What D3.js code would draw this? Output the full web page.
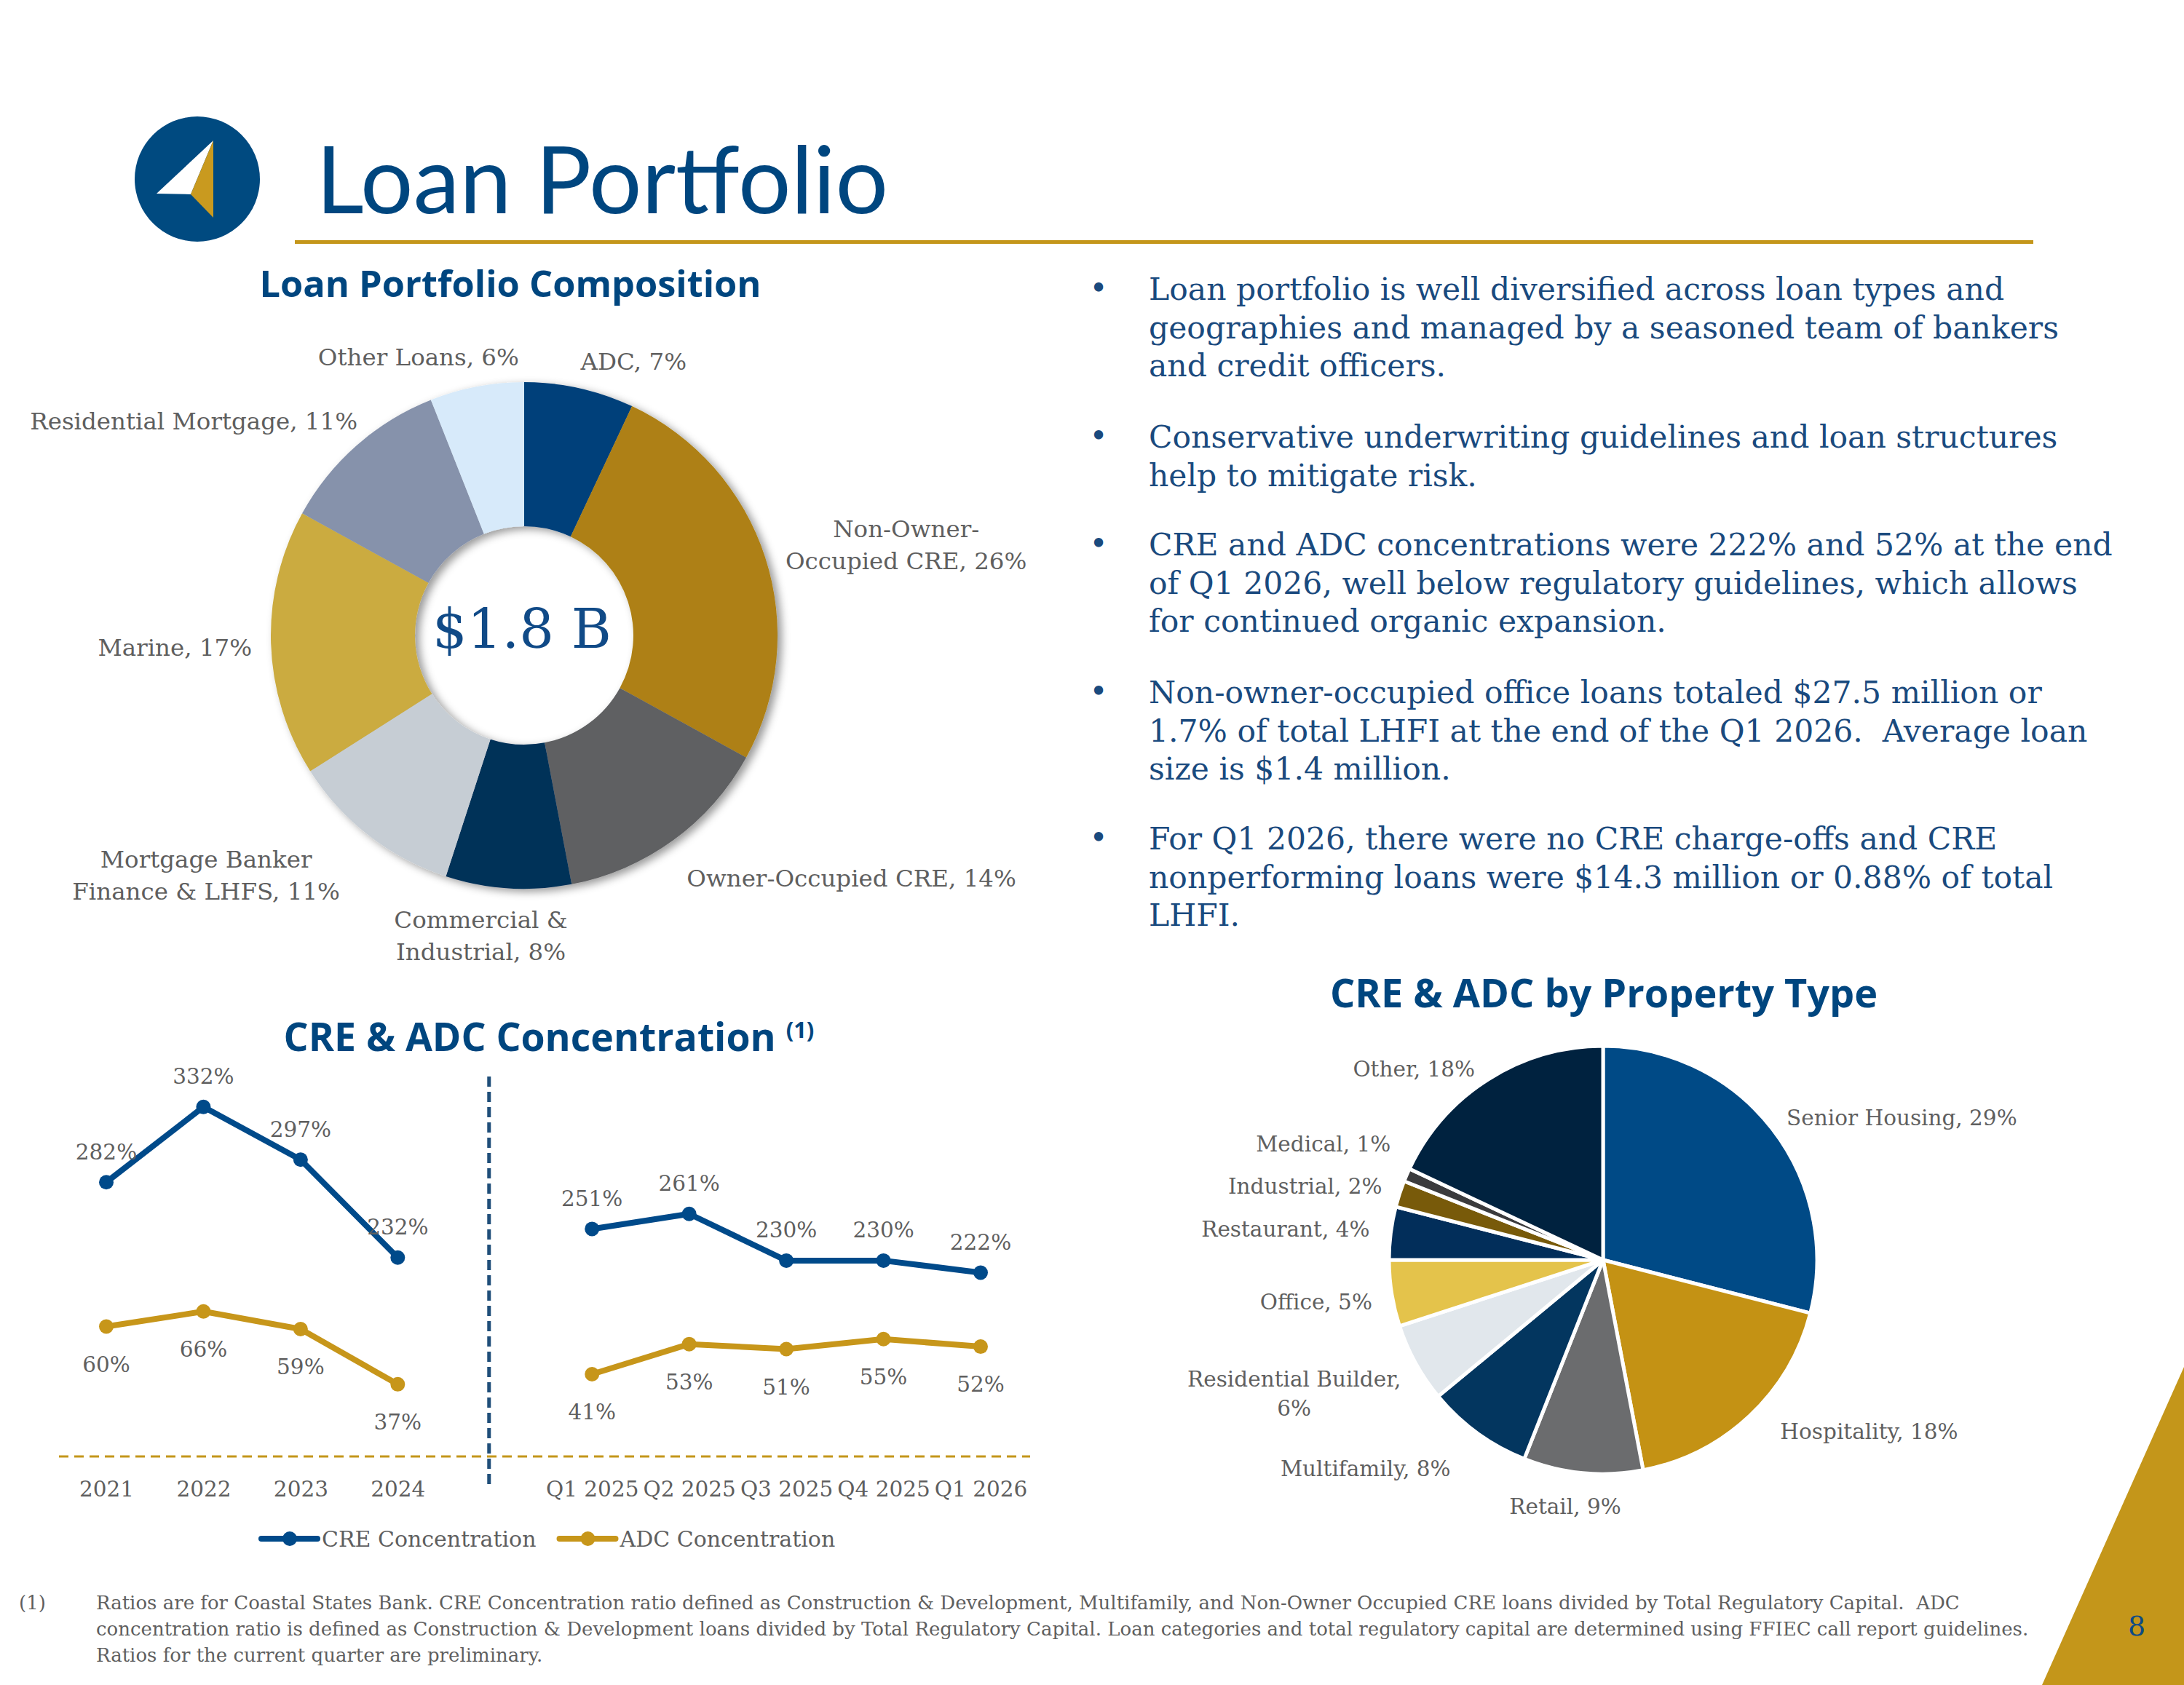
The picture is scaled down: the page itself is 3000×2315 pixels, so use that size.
<!DOCTYPE html>
<html>
<head>
<meta charset="utf-8">
<script src="https://cdn.jsdelivr.net/npm/d3@7"></script>
<style>
  html, body { margin: 0; padding: 0; background: #fff; }
  svg { display: block; }
  text { white-space: pre; }
</style>
</head>
<body>
<div id="slide"></div>
<script>
// Loan portfolio composition (donut).
var compNames = ["ADC", "Non-Owner-|Occupied CRE", "Owner-Occupied CRE", "Commercial &|Industrial",
                 "Mortgage Banker|Finance & LHFS", "Marine", "Residential Mortgage", "Other Loans"];
var compShares = [7, 26, 14, 8, 11, 17, 11, 6];
var compTotal = "$1.8 B";

// CRE & ADC concentration by period.
var annualPeriods = ["2021", "2022", "2023", "2024"];
var quarterPeriods = ["Q1 2025", "Q2 2025", "Q3 2025", "Q4 2025", "Q1 2026"];
var creAnnual = [282, 332, 297, 232];
var creQuarterly = [251, 261, 230, 230, 222];
var adcAnnual = [60, 66, 59, 37];
var adcQuarterly = [41, 53, 51, 55, 52];
var seriesNames = ["CRE Concentration", "ADC Concentration"];

// CRE & ADC by property type (pie).
var propertyTypes = ["Senior Housing", "Hospitality", "Retail", "Multifamily", "Residential Builder",
                     "Office", "Restaurant", "Industrial", "Medical", "Other"];
var propertyShares = [29, 18, 9, 8, 6, 5, 4, 2, 1, 18];

var bullets = [
    ["Loan portfolio is well diversified across loan types and",
     "geographies and managed by a seasoned team of bankers",
     "and credit officers."],
    ["Conservative underwriting guidelines and loan structures",
     "help to mitigate risk."],
    ["CRE and ADC concentrations were 222% and 52% at the end",
     "of Q1 2026, well below regulatory guidelines, which allows",
     "for continued organic expansion."],
    ["Non-owner-occupied office loans totaled $27.5 million or",
     "1.7% of total LHFI at the end of the Q1 2026.  Average loan",
     "size is $1.4 million."],
    ["For Q1 2026, there were no CRE charge-offs and CRE",
     "nonperforming loans were $14.3 million or 0.88% of total",
     "LHFI."]
];

var footnote = [
    "Ratios are for Coastal States Bank. CRE Concentration ratio defined as Construction & Development, Multifamily, and Non-Owner Occupied CRE loans divided by Total Regulatory Capital.  ADC",
    "concentration ratio is defined as Construction & Development loans divided by Total Regulatory Capital. Loan categories and total regulatory capital are determined using FFIEC call report guidelines.",
    "Ratios for the current quarter are preliminary."
];

// Colours and fonts.
var blue = "#00467F", gold = "#C4961A", grey = "#5F5F5F", textBlue = "#1A4A7E";
var compColors = ["#00417A", "#AE8012", "#5F6062", "#003059", "#C6CDD4", "#CBAB40", "#8692AB", "#D7EAFA"];
var propertyColors = ["#004A86", "#C49214", "#6B6C6E", "#03365F", "#E1E7EC", "#E4C34B", "#022E5A", "#785A0A", "#3B3B3D", "#00223F"];
var serif = "'DejaVu Serif', Georgia, serif";
var sans = "'Open Sans', sans-serif";

var W = 3000, H = 2315;
var svg = d3.select("#slide").append("svg").attr("width", W).attr("height", H);

var defs = svg.append("defs");
var shadow = defs.append("filter").attr("id", "shadow")
    .attr("x", "-20%").attr("y", "-20%").attr("width", "140%").attr("height", "140%");
shadow.append("feDropShadow").attr("dx", 6).attr("dy", 4).attr("stdDeviation", 6)
    .attr("flood-color", "#000").attr("flood-opacity", 0.4);

// ---- Header: logo, title and rule ----
var logo = svg.append("g");
logo.append("circle").attr("cx", 271).attr("cy", 246).attr("r", 86).attr("fill", "#004A80");
logo.append("polygon").attr("points", "293,193 215,266 262,267").attr("fill", "#fff");
logo.append("polygon").attr("points", "293,193 262,267 293,299").attr("fill", "#C99A1F");

svg.append("text").attr("x", 434).attr("y", 293)
    .attr("font-family", "Lato, sans-serif").attr("font-size", 128)
    .attr("fill", blue).text("Loan Portfolio");
svg.append("rect").attr("x", 405).attr("y", 330).attr("width", 2388).attr("height", 5).attr("fill", gold);

function heading(x, y, size, txt) {
    return svg.append("text").attr("x", x).attr("y", y).attr("text-anchor", "middle")
        .attr("font-family", sans).attr("font-weight", 700).attr("font-size", size)
        .attr("fill", blue).text(txt);
}

// Places pie labels just outside each slice, then applies manual nudges
// to follow where the original slide put them.
function pieLabels(g, arcs, names, shares, rLab, lineH, fontSize, nudges) {
    arcs.forEach(function(d, i) {
        var a = (d.startAngle + d.endAngle) / 2,
            x = rLab * Math.sin(a),
            y = -rLab * Math.cos(a),
            s = Math.sin(a);
        var label = names[i] + (names[i] == "Residential Builder" ? ",|" : ", ") + shares[i] + "%";
        var lines = label.split("|");
        var t = g.append("text").attr("text-anchor", "middle")
            .attr("font-family", serif).attr("font-size", fontSize).attr("fill", grey);
        lines.forEach(function(ln, j) {
            t.append("tspan").attr("x", 0).attr("y", (j - (lines.length - 1) / 2) * lineH)
                .attr("dy", "0.35em").text(ln);
        });
        var w = t.node().getBBox().width;
        var cx = Math.abs(s) < 0.15 ? x : (s > 0 ? x + w / 2 : x - w / 2);
        var nd = nudges[names[i]] || [0, 0];
        t.attr("transform", "translate(" + (cx + nd[0]) + "," + (y + nd[1]) + ")");
    });
}

// ---- Loan Portfolio Composition donut ----
heading(701, 408, 50.5, "Loan Portfolio Composition");

var donut = svg.append("g").attr("transform", "translate(720,873)");
var compArcs = d3.pie().sort(null).value(function(d) { return d; })(compShares);
var compArc = d3.arc().innerRadius(150).outerRadius(348);
donut.append("g").attr("filter", "url(#shadow)")
  .selectAll("path").data(compArcs).enter().append("path")
    .attr("d", compArc)
    .attr("fill", function(d, i) { return compColors[i]; });
donut.append("text").attr("x", -3).attr("y", 17).attr("text-anchor", "middle")
    .attr("font-family", serif).attr("font-size", 75).attr("fill", "#104A87").text(compTotal);
pieLabels(donut, compArcs, compNames, compShares, 390, 44, 32.5, {
    "ADC": [-8, 4],
    "Non-Owner-|Occupied CRE": [-12, -4],
    "Owner-Occupied CRE": [-6, 18],
    "Commercial &|Industrial": [-35, 23],
    "Mortgage Banker|Finance & LHFS": [-14, 21],
    "Marine": [16, 4],
    "Residential Mortgage": [29, -2],
    "Other Loans": [66, 1]
});

// ---- Bullets ----
var bulletTop = [412, 615, 763, 966, 1167];
var bulletG = svg.append("g").attr("font-family", serif).attr("font-size", 42.5).attr("fill", textBlue);
bullets.forEach(function(lines, i) {
    bulletG.append("text").attr("x", 1509).attr("y", bulletTop[i] - 2).attr("text-anchor", "middle").text("\u2022");
    lines.forEach(function(ln, j) {
        bulletG.append("text").attr("x", 1578).attr("y", bulletTop[i] + j * 52.5).text(ln);
    });
});

// ---- CRE & ADC Concentration line chart ----
var h2 = heading(754, 1444, 53.5, "CRE & ADC Concentration ");
h2.append("tspan").attr("font-size", 31).attr("dy", -18).text("(1)");

var slots = annualPeriods.concat(["gap"], quarterPeriods);
var x = d3.scalePoint().domain(slots).range([146, 1347]);
var yCre = d3.scaleLinear().domain([100, 350]).range([2001, 2001 - 250 * 2.07]);
var yAdc = d3.scaleLinear().domain([10, 80]).range([1995, 1995 - 70 * 3.45]);

var chart = svg.append("g");

// dashed base line and divider
chart.append("line").attr("x1", 81).attr("x2", 1415).attr("y1", 2001).attr("y2", 2001)
    .attr("stroke", gold).attr("stroke-width", 3).attr("stroke-dasharray", "13,8");
var divX = (x(annualPeriods[3]) + x(quarterPeriods[0])) / 2 - 8;
chart.append("line").attr("x1", divX).attr("x2", divX).attr("y1", 1479).attr("y2", 2043)
    .attr("stroke", "#1F4E79").attr("stroke-width", 5).attr("stroke-dasharray", "14,7");

var xAxis = d3.axisBottom(x).tickValues(annualPeriods.concat(quarterPeriods)).tickSize(0).tickPadding(0);
var axisG = chart.append("g").attr("transform", "translate(0,2046)").call(xAxis);
axisG.select(".domain").remove();
axisG.selectAll("text").attr("font-family", serif).attr("font-size", 29.5)
    .attr("fill", grey).attr("dy", "0.35em");

function drawSeries(periods, values, y, color, labelDy) {
    var pts = periods.map(function(p, i) { return {p: p, v: values[i]}; });
    var line = d3.line().x(function(d) { return x(d.p); }).y(function(d) { return y(d.v); });
    chart.append("path").datum(pts).attr("d", line).attr("fill", "none")
        .attr("stroke", color).attr("stroke-width", 8).attr("stroke-linejoin", "round");
    chart.selectAll(null).data(pts).enter().append("circle")
        .attr("cx", function(d) { return x(d.p); })
        .attr("cy", function(d) { return y(d.v); })
        .attr("r", 10).attr("fill", color);
    chart.selectAll(null).data(pts).enter().append("text")
        .attr("x", function(d) { return x(d.p); })
        .attr("y", function(d) { return y(d.v) + labelDy; })
        .attr("dy", "0.35em").attr("text-anchor", "middle")
        .attr("font-family", serif).attr("font-size", 29.5).attr("fill", grey)
        .text(function(d) { return d.v + "%"; });
}

drawSeries(annualPeriods, creAnnual, yCre, "#004A8A", -42);
drawSeries(quarterPeriods, creQuarterly, yCre, "#004A8A", -42);
drawSeries(annualPeriods, adcAnnual, yAdc, "#C7961A", 52);
drawSeries(quarterPeriods, adcQuarterly, yAdc, "#C7961A", 52);

// legend
var legend = svg.append("g").attr("transform", "translate(359,2114)");
var lx = 0;
[["#004A8A", seriesNames[0]], ["#C7961A", seriesNames[1]]].forEach(function(item) {
    legend.append("line").attr("x1", lx).attr("x2", lx + 77).attr("y1", 0).attr("y2", 0)
        .attr("stroke", item[0]).attr("stroke-width", 8).attr("stroke-linecap", "round");
    legend.append("circle").attr("cx", lx + 39).attr("cy", 0).attr("r", 10).attr("fill", item[0]);
    var t = legend.append("text").attr("x", lx + 83).attr("y", 0).attr("dy", "0.35em")
        .attr("font-family", serif).attr("font-size", 30).attr("fill", grey).text(item[1]);
    lx += 83 + t.node().getComputedTextLength() + 32;
});

// ---- CRE & ADC by Property Type pie ----
heading(2203, 1384, 54, "CRE & ADC by Property Type");

var pie = svg.append("g").attr("transform", "translate(2202,1731)");
var propArcs = d3.pie().sort(null).value(function(d) { return d; })(propertyShares);
var propArc = d3.arc().innerRadius(0).outerRadius(294);
pie.selectAll("path").data(propArcs).enter().append("path")
    .attr("d", propArc)
    .attr("fill", function(d, i) { return propertyColors[i]; })
    .attr("stroke", "#fff").attr("stroke-width", 5).attr("stroke-linejoin", "round");
pieLabels(pie, propArcs, propertyTypes, propertyShares, 319, 41, 29.5, {
    "Hospitality": [25, 3],
    "Retail": [-22, 21],
    "Multifamily": [-22, 29],
    "Residential Builder": [2, 30],
    "Office": [-2, 8],
    "Restaurant": [-4, -2],
    "Industrial": [0, -3],
    "Medical": [1, -33],
    "Other": [-5, 7]
});

// ---- Footer ----
svg.append("polygon").attr("points", "3000,1878 3000,2315 2805,2315").attr("fill", gold);
svg.append("text").attr("x", 2935).attr("y", 2247).attr("text-anchor", "middle")
    .attr("font-family", serif).attr("font-size", 38).attr("fill", "#0D4A85").text("8");

var foot = svg.append("g").attr("font-family", serif).attr("font-size", 26).attr("fill", grey);
foot.append("text").attr("x", 26).attr("y", 2211).text("(1)");
footnote.forEach(function(ln, i) {
    foot.append("text").attr("x", 132).attr("y", 2211 + i * 36).text(ln);
});
</script>
</body>
</html>
